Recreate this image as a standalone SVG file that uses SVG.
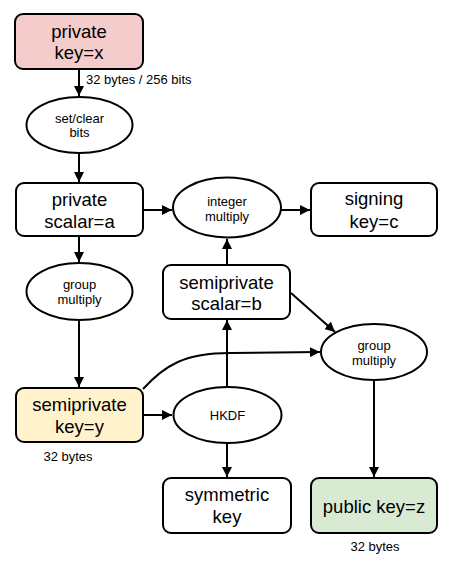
<svg xmlns="http://www.w3.org/2000/svg" width="457" height="564" viewBox="0 0 457 564">
<defs>
<marker id="ah" viewBox="0 0 10 10" refX="10" refY="5" markerWidth="5" markerHeight="5" orient="auto" markerUnits="strokeWidth">
<path d="M0,0 L10,5 L0,10 z" fill="#000"/>
</marker>
<style>
.box{stroke:#000;stroke-width:2;}
.ell{fill:#fff;stroke:#000;stroke-width:2;}
.big{font-family:"Liberation Sans",Arial,sans-serif;font-size:18.5px;text-anchor:middle;fill:#000;}
.sm{font-family:"Liberation Sans",Arial,sans-serif;font-size:13px;text-anchor:middle;fill:#000;}
.lbl{font-family:"Liberation Sans",Arial,sans-serif;font-size:13px;fill:#000;}
.edge{fill:none;stroke:#000;stroke-width:2;marker-end:url(#ah);}
</style>
</defs>
<rect width="457" height="564" fill="#fff"/>
<g id="connectors">
<line class="edge" x1="79" y1="69" x2="79" y2="96"/>
<line class="edge" x1="79" y1="153" x2="79" y2="182"/>
<line class="edge" x1="79" y1="236" x2="79" y2="262"/>
<line class="edge" x1="79" y1="320" x2="79" y2="387"/>
<line class="edge" x1="143" y1="210" x2="172" y2="210"/>
<line class="edge" x1="281" y1="210" x2="310" y2="210"/>
<line class="edge" x1="227" y1="265" x2="227" y2="239"/>
<line class="edge" x1="291" y1="293" x2="335" y2="332"/>
<path class="edge" d="M143,389 C165,365 185,353 230,353 L320,352"/>
<line class="edge" x1="143" y1="415" x2="172" y2="415"/>
<line class="edge" x1="227" y1="387" x2="227" y2="320"/>
<line class="edge" x1="227" y1="443" x2="227" y2="477"/>
<line class="edge" x1="374" y1="380" x2="374" y2="477"/>
</g>
<g id="private_key">
<rect class="box" x="15" y="14" width="128" height="55" rx="8" fill="#f4cccc"/>
<text class="big" x="79" y="38">private</text>
<text class="big" x="79" y="59">key=x</text>
</g>
<text class="lbl" x="86" y="84">32 bytes / 256 bits</text>
<g id="set_clear">
<ellipse class="ell" cx="79.5" cy="125" rx="53" ry="28"/>
<text class="sm" x="79.5" y="123">set/clear</text>
<text class="sm" x="79.5" y="137">bits</text>
</g>
<g id="private_scalar">
<rect class="box" x="16" y="183" width="127" height="53" rx="8" fill="#fff"/>
<text class="big" x="79.5" y="206">private</text>
<text class="big" x="79.5" y="228">scalar=a</text>
</g>
<g id="group_multiply_1">
<ellipse class="ell" cx="79.5" cy="291.5" rx="53" ry="28.5"/>
<text class="sm" x="79.5" y="289">group</text>
<text class="sm" x="79.5" y="304">multiply</text>
</g>
<g id="semiprivate_key">
<rect class="box" x="16" y="388" width="127" height="54" rx="8" fill="#fff2cc"/>
<text class="big" x="79.5" y="411">semiprivate</text>
<text class="big" x="79.5" y="433">key=y</text>
</g>
<text class="sm" x="68" y="461">32 bytes</text>
<g id="integer_multiply">
<ellipse class="ell" cx="227" cy="207.5" rx="54" ry="30"/>
<text class="sm" x="227" y="206">integer</text>
<text class="sm" x="227" y="221">multiply</text>
</g>
<g id="signing_key">
<rect class="box" x="311" y="183" width="126" height="53" rx="8" fill="#fff"/>
<text class="big" x="374" y="205">signing</text>
<text class="big" x="374" y="228">key=c</text>
</g>
<g id="semiprivate_scalar">
<rect class="box" x="163" y="265" width="127" height="54" rx="8" fill="#fff"/>
<text class="big" x="226.5" y="289">semiprivate</text>
<text class="big" x="226.5" y="310">scalar=b</text>
</g>
<g id="group_multiply_2">
<ellipse class="ell" cx="374" cy="352" rx="53" ry="28"/>
<text class="sm" x="374" y="350">group</text>
<text class="sm" x="374" y="365">multiply</text>
</g>
<g id="hkdf">
<ellipse class="ell" cx="227.5" cy="415" rx="54" ry="28"/>
<text class="sm" x="227.5" y="419.5">HKDF</text>
</g>
<g id="symmetric_key">
<rect class="box" x="163" y="478" width="128" height="55" rx="8" fill="#fff"/>
<text class="big" x="227" y="501">symmetric</text>
<text class="big" x="227" y="523">key</text>
</g>
<g id="public_key">
<rect class="box" x="311" y="478" width="126" height="55" rx="8" fill="#d9ead3"/>
<text class="big" x="374" y="513">public key=z</text>
</g>
<text class="sm" x="375" y="551">32 bytes</text>
</svg>
